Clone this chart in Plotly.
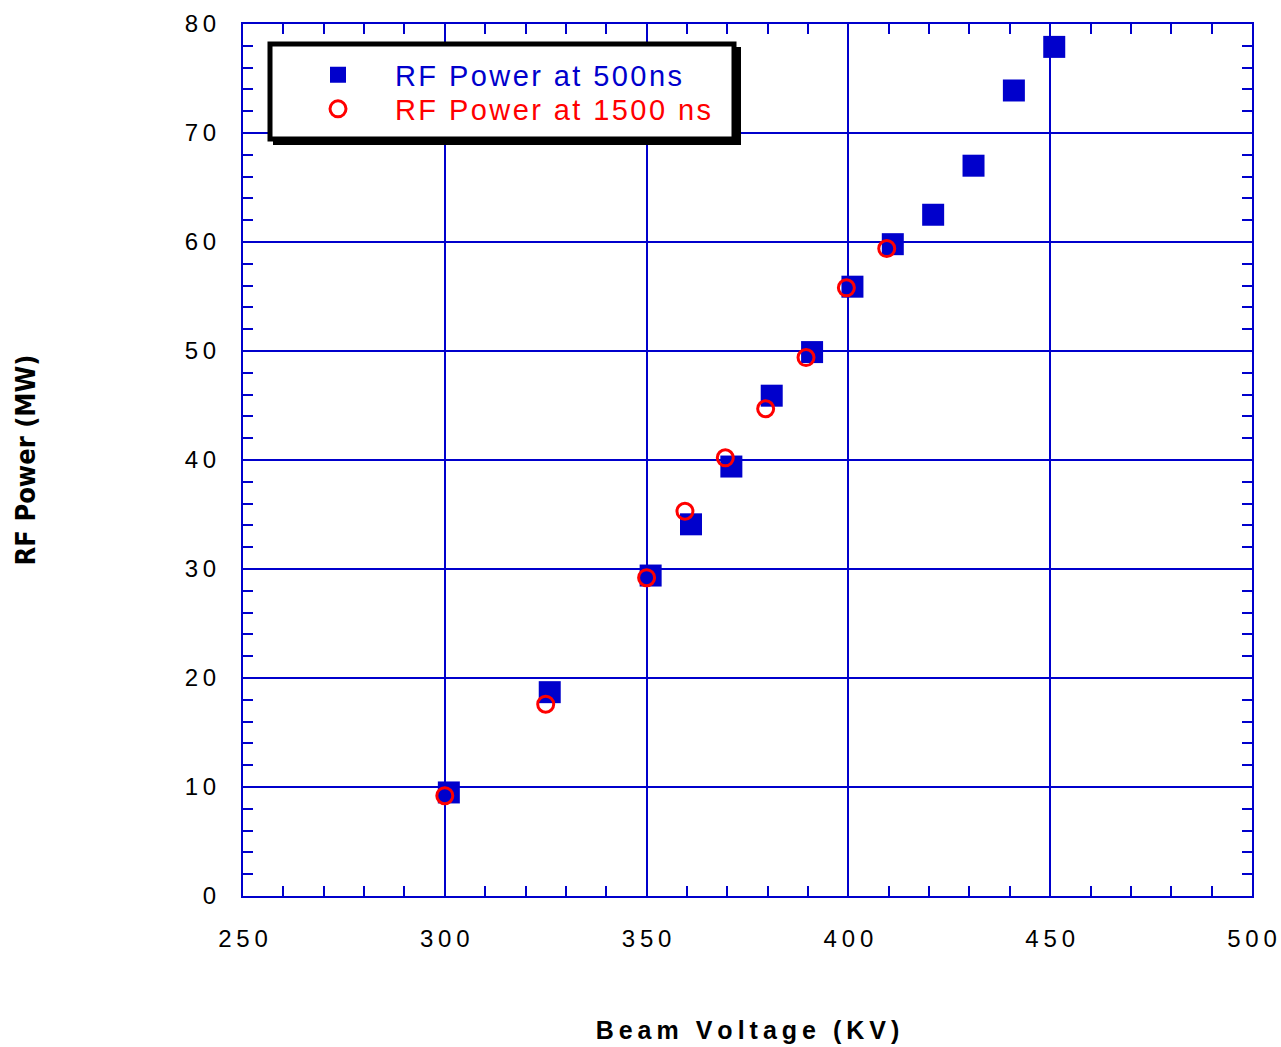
import plotly.graph_objects as go

# Data
v500 = [301, 326, 351, 361, 371, 381, 391, 401, 411, 421, 431, 441, 451]
p500 = [9.5, 18.7, 29.4, 34.1, 39.4, 45.9, 49.9, 55.9, 59.8, 62.5, 67.0, 73.9, 77.9]
v1500 = [300, 325, 350, 359.5, 369.5, 379.5, 389.5, 399.5, 409.5]
p1500 = [9.2, 17.6, 29.2, 35.3, 40.2, 44.7, 49.4, 55.8, 59.4]
x_ticks = [250, 300, 350, 400, 450, 500]
y_ticks = [0, 10, 20, 30, 40, 50, 60, 70, 80]
name500 = "RF Power at 500ns"
name1500 = "RF Power at 1500 ns"
x_title = "Beam Voltage (KV)"
y_title = "RF Power (MW)"

THIN = "\u2009"
HAIR = "\u200a"


def spaced(s, sep):
    return sep.join(list(s))


BLUE = "#0000CC"
fig = go.Figure()
fig.add_trace(go.Scatter(
    x=v500, y=p500, mode="markers", legend="legend",
    name="<span style='color:#0000CC'>" + spaced(name500, HAIR) + "</span>",
    marker=dict(symbol="square", size=22, color=BLUE, line=dict(width=0))))
fig.add_trace(go.Scatter(
    x=v1500, y=p1500, mode="markers", legend="legend2",
    name="<span style='color:#FF0000'>" + spaced(name1500, HAIR) + "</span>",
    marker=dict(symbol="circle-open", size=16, color="#FF0000", line=dict(width=3, color="#FF0000"))))

W, H = 1281, 1047
L, R, T, B = 243, 29, 24, 151
pw, ph = W - L - R, H - T - B


def px(x):
    return (x - L) / pw


def py(y):
    return (H - B - y) / ph


axis_common = dict(
    showline=True, linecolor=BLUE, linewidth=2, mirror="allticks",
    showgrid=True, gridcolor=BLUE, gridwidth=2,
    ticks="inside", ticklen=10, tickwidth=2, tickcolor=BLUE,
    zeroline=False, automargin=False,
    tickfont=dict(family="Liberation Sans, Arial", size=24, color="black"),
)

leg_common = dict(xanchor="left", yanchor="middle",
                  bgcolor="rgba(0,0,0,0)", borderwidth=0,
                  font=dict(family="Liberation Sans, Arial", size=29),
                  itemwidth=104)

fig.update_layout(
    width=W, height=H,
    margin=dict(l=L, r=R, t=T, b=B),
    paper_bgcolor="white", plot_bgcolor="white",
    showlegend=True,
    xaxis=dict(range=[250, 500], tickmode="array", tickvals=x_ticks,
               ticktext=[spaced(str(v), THIN) for v in x_ticks],
               ticklabelstandoff=20,
               minor=dict(dtick=10, ticks="inside", ticklen=10, tickwidth=2, tickcolor=BLUE, showgrid=False),
               title=dict(text="<b>" + spaced(x_title, THIN) + "</b>", standoff=71,
                          font=dict(family="Liberation Sans, Arial", size=25, color="black")),
               **axis_common),
    yaxis=dict(range=[0, 80], tickmode="array", tickvals=y_ticks,
               ticktext=[spaced(str(v), THIN) for v in y_ticks],
               ticklabelstandoff=20,
               minor=dict(dtick=2, ticks="inside", ticklen=10, tickwidth=2, tickcolor=BLUE, showgrid=False),
               title=dict(text="<b>" + y_title + "</b>", standoff=141,
                          font=dict(family="DejaVu Sans Condensed, Liberation Sans", size=27, color="black")),
               **axis_common),
    legend=dict(x=px(281), y=py(75), **leg_common),
    legend2=dict(x=px(281), y=py(109), **leg_common),
    shapes=[
        dict(type="rect", xref="paper", yref="paper",
             x0=px(273), x1=px(741), y0=py(145), y1=py(47),
             fillcolor="black", line=dict(width=0), layer="above"),
        dict(type="rect", xref="paper", yref="paper",
             x0=px(270), x1=px(734), y0=py(139), y1=py(44),
             fillcolor="white", line=dict(color="black", width=5), layer="above"),
    ],
)

fig.write_html("out.html")
